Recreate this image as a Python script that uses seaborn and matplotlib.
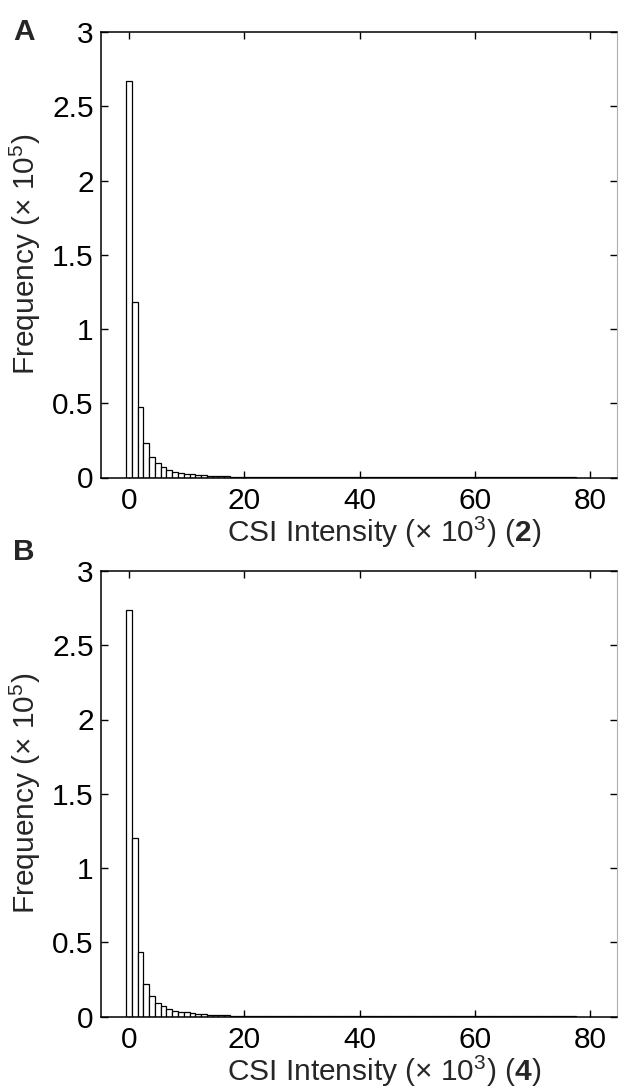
import numpy as np
import pandas as pd
import matplotlib
matplotlib.use("Agg")
import matplotlib.pyplot as plt
import seaborn as sns

# bin counts (x 10^5), one bin per 10^3 of CSI intensity, bins centred at 0, 1, 2, ...
counts_2 = [2.67, 1.18, 0.475, 0.235, 0.137, 0.095, 0.068, 0.050, 0.038, 0.030,
            0.025, 0.021, 0.018, 0.015, 0.012, 0.010, 0.009, 0.007, 0.006, 0.005,
            0.004, 0.0035, 0.003, 0.0025, 0.002, 0.002, 0.0018, 0.0015, 0.0013, 0.0012,
            0.001, 0.001, 0.0009, 0.0008, 0.0008, 0.0007, 0.0006, 0.0006, 0.0005, 0.0005,
            0.0004, 0.0004, 0.0004, 0.0003, 0.0003, 0.0003, 0.0003, 0.0002, 0.0002, 0.0002,
            0.0002, 0.0002, 0.0002, 0.0001, 0.0001, 0.0001, 0.0001, 0.0001, 0.0001, 0.0001,
            0.0001, 0.0001, 0.0001, 0.0001, 0.0001, 0.0001, 0.0001, 0.0001, 0.0001, 0.0001,
            0.0001, 0.0001, 0.0001, 0.0001, 0.0001, 0.0001, 0.0001, 0.0001]
counts_4 = [2.74, 1.20, 0.437, 0.220, 0.138, 0.094, 0.070, 0.052, 0.040, 0.032,
            0.027, 0.022, 0.018, 0.015, 0.013, 0.010, 0.009, 0.007, 0.006, 0.005,
            0.004, 0.0035, 0.003, 0.0025, 0.002, 0.002, 0.0018, 0.0015, 0.0013, 0.0012,
            0.001, 0.001, 0.0009, 0.0008, 0.0008, 0.0007, 0.0006, 0.0006, 0.0005, 0.0005,
            0.0004, 0.0004, 0.0004, 0.0003, 0.0003, 0.0003, 0.0003, 0.0002, 0.0002, 0.0002,
            0.0002, 0.0002, 0.0002, 0.0001, 0.0001, 0.0001, 0.0001, 0.0001, 0.0001, 0.0001,
            0.0001, 0.0001, 0.0001, 0.0001, 0.0001, 0.0001, 0.0001, 0.0001, 0.0001, 0.0001,
            0.0001, 0.0001, 0.0001, 0.0001, 0.0001, 0.0001, 0.0001, 0.0001]
panels = ["A", "B"]
suffix = ["2", "4"]
x_ticks = [0, 20, 40, 60, 80]
y_ticks = [0, 0.5, 1, 1.5, 2, 2.5, 3]
y_ticklabels = ["0", "0.5", "1", "1.5", "2", "2.5", "3"]

sns.set_style("ticks")
plt.rcParams["font.family"] = ["Liberation Sans", "DejaVu Sans"]
plt.rcParams["mathtext.fontset"] = "custom"
plt.rcParams["mathtext.rm"] = "Liberation Sans"
plt.rcParams["mathtext.bf"] = "Liberation Sans:bold"
fs = 21.5

fig = plt.figure(figsize=(6.19, 10.89), dpi=100)
W, H = 619, 1089
boxes = [(100.7, 32, 617.5, 477.5), (100.7, 571, 617.5, 1016.5)]
letter_y = [31.5, 551.5]

for i, counts in enumerate([counts_2, counts_4]):
    l, t, r, b = boxes[i]
    ax = fig.add_axes([l / W, 1 - b / H, (r - l) / W, (b - t) / H])
    df = pd.DataFrame({"csi": np.arange(len(counts)), "freq": counts})
    sns.histplot(data=df, x="csi", weights="freq", discrete=True, color="white",
                 edgecolor="black", linewidth=0.9, alpha=1, ax=ax)
    ax.set_xlim(-4.9, 84.7)
    ax.set_ylim(0, 3)
    ax.set_xticks(x_ticks)
    ax.set_yticks(y_ticks)
    ax.set_yticklabels(y_ticklabels)
    ax.tick_params(direction="in", length=5, width=1, top=True, right=True,
                   labelsize=fs, pad=5, colors="black")
    ax.tick_params(axis="x", pad=7)
    for s in ["left", "bottom", "top"]:
        ax.spines[s].set_linewidth(1.1)
        ax.spines[s].set_color("black")
    ax.spines["right"].set_linewidth(0.8)
    ax.spines["right"].set_color("#b0b0b0")
    ax.set_ylabel(r"Frequency (× 10$^5$)", fontsize=fs)
    ax.yaxis.set_label_coords(-0.112, 0.5)
    ax.set_xlabel(r"CSI Intensity (× 10$^3$) ($\mathbf{" + suffix[i] + "}$)", fontsize=fs)
    ax.xaxis.set_label_coords(0.548, -0.083)
    fig.text(24 / W, 1 - letter_y[i] / H, panels[i], fontsize=fs, fontweight="bold",
             ha="center", va="center")

fig.savefig("out.png", dpi=100)
